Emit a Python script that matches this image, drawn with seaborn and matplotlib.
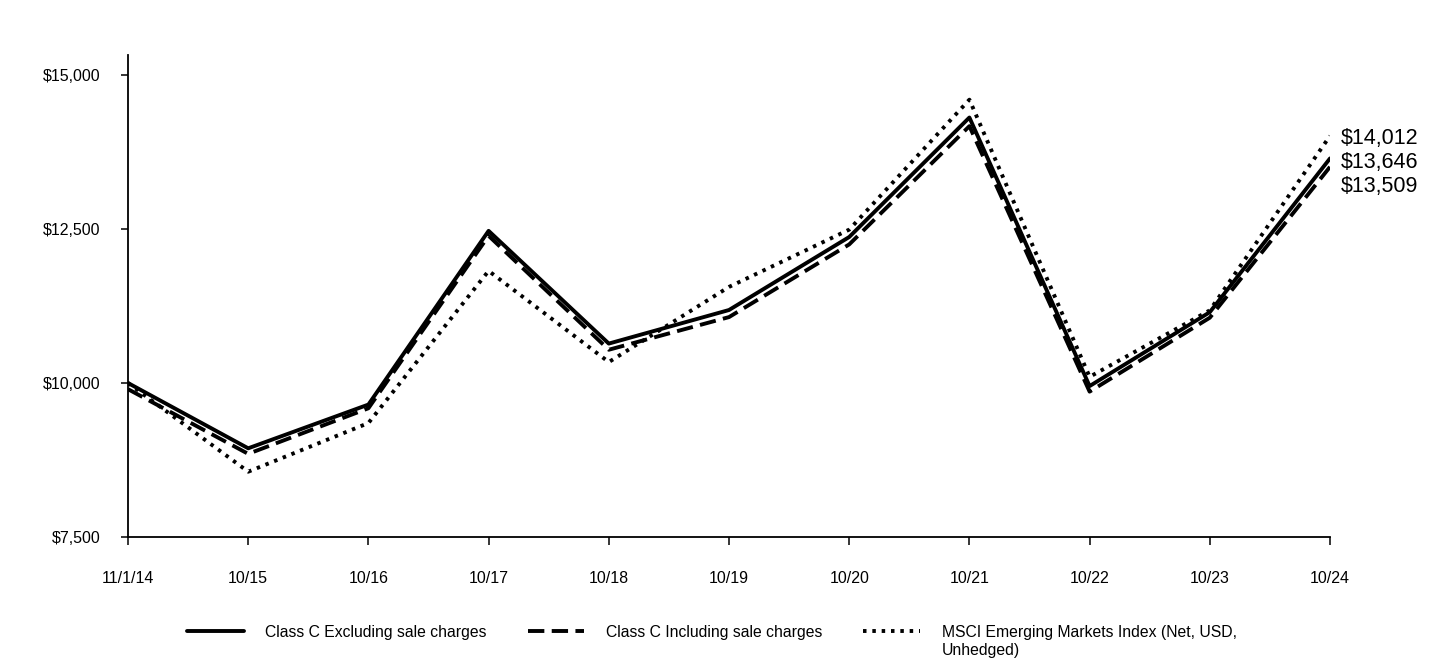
import matplotlib
matplotlib.use("Agg")
import matplotlib.pyplot as plt
import seaborn as sns
import pandas as pd

dates = ["11/1/14", "10/15", "10/16", "10/17", "10/18", "10/19", "10/20", "10/21", "10/22", "10/23", "10/24"]
excl = [10000, 8940, 9650, 12470, 10640, 11185, 12370, 14310, 9950, 11150, 13646]
incl = [9900, 8850, 9590, 12390, 10540, 11070, 12250, 14170, 9860, 11060, 13509]
msci = [10000, 8560, 9350, 11820, 10340, 11560, 12490, 14600, 10100, 11180, 14012]
series_names = ["Class C Excluding sale charges", "Class C Including sale charges",
                "MSCI Emerging Markets Index (Net, USD,"]
msci_name_line2 = "Unhedged)"
yticks = [7500, 10000, 12500, 15000]
ytick_labels = ["$7,500", "$10,000", "$12,500", "$15,000"]

sns.set_theme(style="white")
plt.rcParams['font.family'] = ['Liberation Sans', 'DejaVu Sans']
plt.rcParams['text.color'] = 'black'

fig = plt.figure(figsize=(14.4, 6.6), dpi=100)
ax = fig.add_axes([128/1440, 1-537/660, (1330-128)/1440, (537-55)/660])

styles = [
    dict(linestyle="-", lw=2.8),
    dict(linestyle=(0, (4.2, 1.9)), lw=2.8),
    dict(linestyle=(0, (0.9, 1.5)), lw=2.8),
]
idx = list(range(len(dates)))
handles = []
for vals, name, st in zip([excl, incl, msci], series_names, styles):
    df = pd.DataFrame({"x": idx, "y": vals})
    sns.lineplot(data=df, x="x", y="y", ax=ax, color="black", linewidth=st["lw"],
                 linestyle=st["linestyle"], label=name, legend=False)
    handles.append(ax.lines[-1])

ax.set_xlim(0, len(dates) - 1)
ax.set_ylim(7500, 15325)
ax.set_xticks(idx)
ax.set_xticklabels(dates, fontsize=11.5)
ax.set_yticks(yticks)
ax.set_yticklabels(ytick_labels, fontsize=11.5)
ax.set_xlabel("")
ax.set_ylabel("")
for s in ["top", "right"]:
    ax.spines[s].set_visible(False)
for s in ["left", "bottom"]:
    ax.spines[s].set_color("black")
    ax.spines[s].set_linewidth(1.3)
ax.tick_params(axis="both", which="both", direction="out", width=1.1,
               color="black", labelcolor="black", bottom=True, left=True)
ax.tick_params(axis="x", length=6, pad=18.5)
ax.tick_params(axis="y", length=5, pad=15)

# end labels, stacked to avoid overlap
ends = sorted([msci[-1], excl[-1], incl[-1]], reverse=True)
gap = 385
prev = None
for v in ends:
    ypos = v if prev is None else min(v, prev - gap)
    ax.annotate(f"${v:,.0f}", xy=(len(dates) - 1, ypos), xytext=(8, -2),
                textcoords="offset points", va="center", ha="left",
                fontsize=15.5, color="black", annotation_clip=False)
    prev = ypos

leg = fig.legend(handles=handles, labels=series_names, loc="center left",
                 bbox_to_anchor=(187/1440, 1 - 632/660), ncol=3, frameon=False,
                 fontsize=11.3, handlelength=3.6, columnspacing=2.6,
                 handletextpad=1.4, borderpad=0, borderaxespad=0)
for t in leg.get_texts():
    t.set_color("black")

fig.canvas.draw()
t3 = leg.get_texts()[2]
bb = t3.get_window_extent(renderer=fig.canvas.get_renderer())
x0, y0 = fig.transFigure.inverted().transform((bb.x0, bb.y0))
fig.text(x0, y0 - 3/660, msci_name_line2, fontsize=11.3, ha="left", va="top",
         color="black")

fig.savefig("out.png", dpi=100, facecolor="white")
